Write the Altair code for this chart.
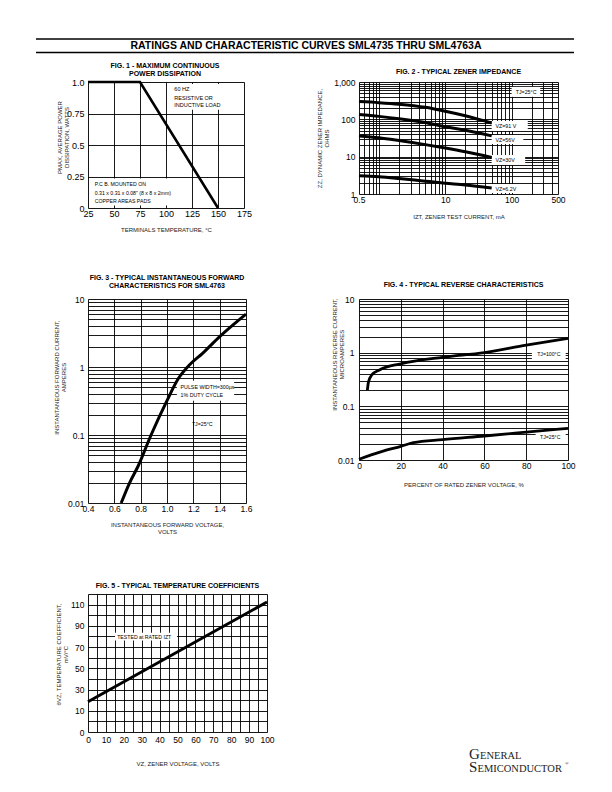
import altair as alt
import pandas as pd

FONT = "Liberation Sans"
SERIF = "Liberation Serif"

HEADER_TEXT = "RATINGS AND CHARACTERISTIC CURVES SML4735 THRU SML4763A"

# ---------------- Fig 1 data ----------------
fig1_title = ["FIG. 1 - MAXIMUM CONTINUOUS", "POWER DISSIPATION"]
fig1_temp = [25, 75, 150]
fig1_power = [1.0, 1.0, 0.0]
fig1_xticks = [25, 50, 75, 100, 125, 150, 175]
fig1_yticks = [0, 0.25, 0.5, 0.75, 1.0]
fig1_note1 = ["60 HZ", "RESISTIVE OR", "INDUCTIVE LOAD"]
fig1_note1_y = [0.942, 0.871, 0.815]
fig1_note2 = ["P.C B. MOUNTED ON", "0.31 x 0.31 x 0.08\" (8 x 8 x 2mm)", "COPPER AREAS PADS"]
fig1_note2_y = [0.193, 0.121, 0.056]

# ---------------- Fig 2 data ----------------
fig2_current = [0.5, 1, 2, 5, 10, 20, 50]
fig2_vz91 = [300, 280, 255, 210, 165, 125, 80]
fig2_vz56 = [135, 120, 104, 82, 63, 51, 36]
fig2_vz30 = [36, 32, 27, 21, 17, 13.5, 9.5]
fig2_vz62 = [3.1, 2.9, 2.6, 2.2, 1.95, 1.75, 1.45]
fig2_xgrid = [0.5, 0.6, 0.7, 0.8, 0.9, 1, 2, 3, 4, 5, 6, 7, 8, 9, 10,
              20, 30, 40, 50, 60, 70, 80, 90, 100, 200, 300, 400, 500]
fig2_ygrid = [1, 2, 3, 4, 5, 6, 7, 8, 9, 10, 20, 30, 40, 50, 60, 70, 80, 90,
              100, 200, 300, 400, 500, 600, 700, 800, 900, 1000]
fig2_labels = ["TJ=25\u00b0C", "VZ=91 V", "VZ=56V", "VZ=30V", "VZ=6.2V"]
fig2_label_x = [115, 57, 57, 57, 57]
fig2_label_y = [550, 66, 28.5, 8.15, 1.39]
fig2_box_x1 = [100, 50, 50, 50, 50]
fig2_box_x2 = [270, 175, 150, 160, 160]
fig2_box_y1 = [740, 90, 38, 11.1, 1.85]
fig2_box_y2 = [400, 48.7, 21.8, 6.0, 1.06]

# ---------------- Fig 3 data ----------------
fig3_volt = [0.652, 0.717, 0.781, 0.879, 1.0, 1.085, 1.172, 1.27, 1.40, 1.6]
fig3_amp = [0.01, 0.02, 0.035, 0.1, 0.32, 0.67, 1.08, 1.59, 2.8, 6.0]
fig3_xticks = [0.4, 0.6, 0.8, 1.0, 1.2, 1.4, 1.6]
log_grid_3dec = [0.01, 0.02, 0.03, 0.04, 0.05, 0.06, 0.07, 0.08, 0.09,
                 0.1, 0.2, 0.3, 0.4, 0.5, 0.6, 0.7, 0.8, 0.9,
                 1, 2, 3, 4, 5, 6, 7, 8, 9, 10]
fig3_note = ["PULSE WIDTH=300\u00b5s", "1% DUTY CYCLE"]
fig3_note_x = [1.103, 1.103]
fig3_note_y = [0.513, 0.39]
fig3_tj = ["TJ=25\u00b0C"]

# ---------------- Fig 4 data ----------------
fig4_pct_100 = [4, 4.5, 6, 10, 20, 40, 60, 80, 100]
fig4_cur_100 = [0.2, 0.28, 0.38, 0.48, 0.62, 0.82, 1.0, 1.38, 1.85]
fig4_pct_25 = [0, 10, 20, 26, 40, 60, 80, 100]
fig4_cur_25 = [0.0103, 0.014, 0.018, 0.021, 0.024, 0.028, 0.033, 0.039]
fig4_xticks = [0, 20, 40, 60, 80, 100]
fig4_labels = ["TJ=100\u00b0C", "TJ=25\u00b0C"]
fig4_label_x = [90.8, 91.5]
fig4_label_y = [0.945, 0.0268]
fig4_box_x1 = [82.7, 84.5]
fig4_box_x2 = [98.9, 98.9]
fig4_box_y1 = [1.17, 0.0318]
fig4_box_y2 = [0.76, 0.0222]

# ---------------- Fig 5 data ----------------
fig5_vz = [0, 100]
fig5_coef = [18.5, 112.5]
fig5_xgrid = [0, 5, 10, 15, 20, 25, 30, 35, 40, 45, 50, 55, 60, 65, 70, 75, 80, 85, 90, 95, 100]
fig5_ygrid = [-10, 0, 10, 20, 30, 40, 50, 60, 70, 80, 90, 100, 110, 120]
fig5_note = "TESTED at RATED IZT"

# ---------------- styling helpers ----------------
AX = dict(grid=True, gridColor="black", gridWidth=0.9, gridOpacity=1, ticks=False,
          domain=False, labelFont=FONT, labelFontSize=8.5, labelColor="black",
          labelOverlap=False, labelFlush=False, titleFont=FONT, titleFontSize=6,
          titleFontWeight="normal", titleColor="#222", titleLineHeight=7,
          titleAlign="center", titleBaseline="middle")


def xaxis(values, expr, title, title_y, pad=1, size=8.5):
    return alt.Axis(values=values, labelExpr=expr, title=title, titleY=title_y,
                    labelPadding=pad, **{**AX, "labelFontSize": size})


def yaxis(values, expr, title, title_x, title_y, pad=4, size=8.5):
    return alt.Axis(values=values, labelExpr=expr, title=title, titleX=title_x,
                    titleY=title_y, labelPadding=pad, **{**AX, "labelFontSize": size})


def fig_title(text, offset):
    return alt.TitleParams(text=text, font=FONT, fontSize=7, fontWeight="bold",
                           color="black", offset=offset, lineHeight=8, anchor="middle")


def box_layer(df, X, Y):
    return alt.Chart(df).mark_rect(color="white", opacity=1).encode(
        x=X, x2="x2:Q", y=Y, y2="y2:Q")


def text_layer(df, X, Y, align="left", size=5.5):
    return alt.Chart(df).mark_text(align=align, baseline="middle", font=FONT,
                                   fontSize=size, color="black").encode(
        x=X, y=Y, text="label:N")


# ---------------- header + Fig 1 title (drawn above Fig 1) ----------------
hdr = pd.DataFrame({"title": [HEADER_TEXT]})
header_layers = [
    alt.Chart(hdr).mark_rule(color="black", strokeWidth=1.3).encode(
        x=alt.value(-52), x2=alt.value(486), y=alt.value(-43)),
    alt.Chart(hdr).mark_rule(color="black", strokeWidth=1.3).encode(
        x=alt.value(-52), x2=alt.value(486), y=alt.value(-29.5)),
    alt.Chart(hdr).mark_text(font=FONT, fontSize=10.5, fontWeight="bold", baseline="middle",
                             align="center", color="black").encode(
        text="title:N", x=alt.value(218), y=alt.value(-36)),
]
t1 = pd.DataFrame({"label": fig1_title})
fig1_title_layers = [
    alt.Chart(t1.iloc[[i]]).mark_text(font=FONT, fontSize=7, fontWeight="bold", baseline="middle",
                                      align="center", color="black").encode(
        text="label:N", x=alt.value(77), y=alt.value(yy))
    for i, yy in enumerate([-16, -8])
]

# ---------------- Fig 1 ----------------
W1, H1 = 156, 126
X1 = alt.X("x:Q", scale=alt.Scale(domain=[25, 175], nice=False, zero=False),
           axis=xaxis(fig1_xticks, "format(datum.value, 'd')",
                      "TERMINALS TEMPERATURE, \u00b0C", 21, size=9))
Y1 = alt.Y("y:Q", scale=alt.Scale(domain=[0, 1], nice=False),
           axis=yaxis(fig1_yticks,
                      "datum.value == 1 ? '1.0' : datum.value == 0 ? '0' : '' + datum.value",
                      ["PMAX, AVERAGE POWER", "DISSIPATION, WATTS"], -29, 55, size=9))
df1 = pd.DataFrame({"x": fig1_temp, "y": fig1_power})
df1_boxes = pd.DataFrame({"x": [106, 29], "x2": [160, 106], "y": [0.985, 0.235], "y2": [0.78, 0.02]})
df1_t1 = pd.DataFrame({"x": [108] * 3, "y": fig1_note1_y, "label": fig1_note1})
df1_t2 = pd.DataFrame({"x": [31.5] * 3, "y": fig1_note2_y, "label": fig1_note2})
fig1 = alt.layer(
    box_layer(df1_boxes, X1, Y1),
    text_layer(df1_t1, X1, Y1),
    text_layer(df1_t2, X1, Y1, size=5.2),
    alt.Chart(df1).mark_line(color="black", strokeWidth=2.6).encode(x=X1, y=Y1),
    *header_layers,
    *fig1_title_layers,
).properties(width=W1, height=H1)

# ---------------- Fig 2 ----------------
W2, H2 = 199, 112
X2 = alt.X("x:Q", scale=alt.Scale(type="log", domain=[0.5, 500], nice=False),
           axis=xaxis(fig2_xgrid,
                      "datum.value == 0.5 ? '0.5' : datum.value == 10 ? '10' : datum.value == 100 ? '100' : datum.value == 500 ? '500' : ''",
                      "IZT, ZENER TEST CURRENT, mA", 22))
Y2 = alt.Y("y:Q", scale=alt.Scale(type="log", domain=[1, 1000], nice=False),
           axis=yaxis(fig2_ygrid,
                      "datum.value == 1 ? '1' : datum.value == 10 ? '10' : datum.value == 100 ? '100' : datum.value == 1000 ? '1,000' : ''",
                      ["ZZ, DYNAMIC ZENER IMPEDANCE,", "OHMS"], -40, 56))
rows2 = []
for name, vals in [("91", fig2_vz91), ("56", fig2_vz56), ("30", fig2_vz30), ("6.2", fig2_vz62)]:
    for c, v in zip(fig2_current, vals):
        rows2.append({"x": c, "y": v, "s": name})
df2 = pd.DataFrame(rows2)
df2_boxes = pd.DataFrame({"x": fig2_box_x1, "x2": fig2_box_x2, "y": fig2_box_y1, "y2": fig2_box_y2})
df2_text = pd.DataFrame({"x": fig2_label_x, "y": fig2_label_y, "label": fig2_labels})
fig2 = alt.layer(
    box_layer(df2_boxes, X2, Y2),
    text_layer(df2_text, X2, Y2, size=5.3),
    alt.Chart(df2).mark_line(color="black", strokeWidth=3, interpolate="monotone").encode(
        x=X2, y=Y2, detail="s:N"),
).properties(width=W2, height=H2, title=fig_title("FIG. 2 - TYPICAL ZENER IMPEDANCE", 3))

# ---------------- Fig 3 ----------------
W3, H3 = 158, 204
X3 = alt.X("x:Q", scale=alt.Scale(domain=[0.4, 1.6], nice=False, zero=False),
           axis=xaxis(fig3_xticks, "format(datum.value, '.1f')",
                      ["INSTANTANEOUS FORWARD VOLTAGE,", "VOLTS"], 21))
Y3 = alt.Y("y:Q", scale=alt.Scale(type="log", domain=[0.01, 10], nice=False),
           axis=yaxis(log_grid_3dec,
                      "datum.value == 0.01 ? '0.01' : datum.value == 0.1 ? '0.1' : datum.value == 1 ? '1' : datum.value == 10 ? '10' : ''",
                      ["INSTANTANEOUS FORWARD CURRENT,", "AMPERES"], -32, 78))
df3 = pd.DataFrame({"x": fig3_volt, "y": fig3_amp})
df3_boxes = pd.DataFrame({"x": [1.075], "x2": [1.51], "y": [0.63], "y2": [0.32]})
df3_text = pd.DataFrame({"x": fig3_note_x, "y": fig3_note_y, "label": fig3_note})
df3_tj = pd.DataFrame({"x": [1.268], "y": [0.147], "label": fig3_tj})
fig3 = alt.layer(
    box_layer(df3_boxes, X3, Y3),
    text_layer(df3_text, X3, Y3, size=5.3),
    text_layer(df3_tj, X3, Y3, align="center", size=5.3),
    alt.Chart(df3).mark_line(color="black", strokeWidth=3, interpolate="monotone").encode(x=X3, y=Y3),
).properties(width=W3, height=H3,
             title=fig_title(["FIG. 3 - TYPICAL INSTANTANEOUS FORWARD", "CHARACTERISTICS FOR SML4763"], 6))

# ---------------- Fig 4 ----------------
W4, H4 = 209, 161
X4 = alt.X("x:Q", scale=alt.Scale(domain=[0, 100], nice=False),
           axis=xaxis(fig4_xticks, "format(datum.value, 'd')",
                      "PERCENT OF RATED ZENER VOLTAGE, %", 24))
Y4 = alt.Y("y:Q", scale=alt.Scale(type="log", domain=[0.01, 10], nice=False),
           axis=yaxis(log_grid_3dec,
                      "datum.value == 0.01 ? '0.01' : datum.value == 0.1 ? '0.1' : datum.value == 1 ? '1' : datum.value == 10 ? '10' : ''",
                      ["INSTANTANEOUS REVERSE CURRENT,", "MICROAMPERES"], -25, 55, pad=5))
df4 = pd.DataFrame({"x": fig4_pct_100 + fig4_pct_25, "y": fig4_cur_100 + fig4_cur_25,
                    "s": ["100"] * len(fig4_pct_100) + ["25"] * len(fig4_pct_25)})
df4_boxes = pd.DataFrame({"x": fig4_box_x1, "x2": fig4_box_x2, "y": fig4_box_y1, "y2": fig4_box_y2})
df4_text = pd.DataFrame({"x": fig4_label_x, "y": fig4_label_y, "label": fig4_labels})
fig4 = alt.layer(
    box_layer(df4_boxes, X4, Y4),
    text_layer(df4_text, X4, Y4, align="center", size=5.2),
    alt.Chart(df4).mark_line(color="black", strokeWidth=2.8, interpolate="monotone").encode(
        x=X4, y=Y4, detail="s:N"),
).properties(width=W4, height=H4, title=fig_title("FIG. 4 - TYPICAL REVERSE CHARACTERISTICS", 7))

# ---------------- Fig 5 ----------------
W5, H5 = 179, 138
X5 = alt.X("x:Q", scale=alt.Scale(domain=[0, 100], nice=False),
           axis=xaxis(fig5_xgrid, "datum.value % 10 == 0 ? format(datum.value, 'd') : ''",
                      "VZ, ZENER VOLTAGE, VOLTS", 31, pad=3))
Y5 = alt.Y("y:Q", scale=alt.Scale(domain=[-10, 120], nice=False, zero=False),
           axis=yaxis(fig5_ygrid,
                      "datum.value == -10 ? '0' : (datum.value % 20 == 10 ? format(datum.value, 'd') : '')",
                      ["\u03b8VZ, TEMPERATURE COEFFICIENT,", "mV/\u00b0C"], -30, 60))
df5 = pd.DataFrame({"x": fig5_vz, "y": fig5_coef})
df5_boxes = pd.DataFrame({"x": [15.1], "x2": [49.7], "y": [83.6], "y2": [76.1]})
df5_text = pd.DataFrame({"x": [16.3], "y": [79.9], "label": [fig5_note]})

logo_df = pd.DataFrame({"a": [1]})


def logo_text(txt, x, y, size, baseline="alphabetic"):
    return alt.Chart(logo_df).mark_text(text=txt, font=SERIF, fontSize=size, align="left",
                                        baseline=baseline, color="#222").encode(
        x=alt.value(x), y=alt.value(y))


fig5 = alt.layer(
    box_layer(df5_boxes, X5, Y5),
    text_layer(df5_text, X5, Y5, size=5.2),
    alt.Chart(df5).mark_line(color="black", strokeWidth=3).encode(x=X5, y=Y5),
    logo_text("G", 381, 165, 15),
    logo_text("ENERAL", 392, 165, 10.5),
    logo_text("S", 381, 178, 15),
    logo_text("EMICONDUCTOR", 389.5, 178, 10.5),
    logo_text("\u00ae", 477, 171, 5),
).properties(width=W5, height=H5, title=fig_title("FIG. 5 - TYPICAL TEMPERATURE COEFFICIENTS", 1))

chart = alt.concat(
    fig1, fig2, fig3, fig4, fig5,
    columns=2, bounds="flush", align="each",
    spacing={"row": 91, "column": 92},
).properties(
    padding={"left": 26, "top": 29, "right": 5, "bottom": 5}
).configure_view(stroke="black", strokeWidth=1).configure(background="white")

chart.save("out.html", embed_options={"renderer": "svg", "actions": False})
